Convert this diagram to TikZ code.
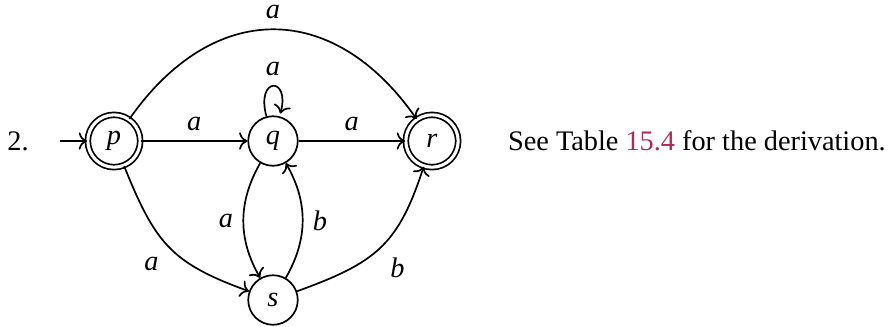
\documentclass[tikz,border=0pt]{standalone}
\usepackage{fontspec}
\setmainfont{Liberation Serif}
\usetikzlibrary{arrows.meta}
\definecolor{linkred}{RGB}{180,40,90}

\begin{document}
\begin{tikzpicture}[x=0.3533pt,y=0.3533pt,
    state/.style={draw,circle,semithick,minimum size=17.5pt,inner sep=0pt},
    accept/.style={state,double,double distance=1.1pt,minimum size=18.5pt},
    trans/.style={semithick,-{To}}]
  \useasboundingbox (0,0) rectangle (893,326);
  \node (num) at (18,185) {2.};
  \coordinate (entry) at (60,185);
  \node[accept] (p) at (114,185) {\textit{p}};
  \node[state]  (q) at (273,185) {\textit{q}};
  \node[accept] (r) at (432,185) {\textit{r}};
  \node[state]  (s) at (273,26)  {\textit{s}};
  \node[anchor=base west,inner sep=0pt] (note) at (507.5,176)
    {See Table \textcolor{linkred}{15.4} for the derivation.};
  \draw[trans] (entry) -- (p);
  \draw[trans] (p) -- node[above] {\textit{a}} (q);
  \draw[trans] (q) -- node[above] {\textit{a}} (r);
  \draw[trans] (p) to[out=55,in=125,looseness=1.3] node[above] {\textit{a}} (r);
  \draw[trans] (p) to[out=-68,in=160,looseness=1.2] node[below left] {\textit{a}} (s);
  \draw[trans] (s) to[out=20,in=-108,looseness=1.2] node[below right] {\textit{b}} (r);
  \draw[trans] (q) to[bend right=30] node[left] {\textit{a}} (s);
  \draw[trans] (s) to[bend right=30] node[right] {\textit{b}} (q);
  \path (q) edge[trans,loop above] node[above] {\textit{a}} ();
\end{tikzpicture}
\end{document}
